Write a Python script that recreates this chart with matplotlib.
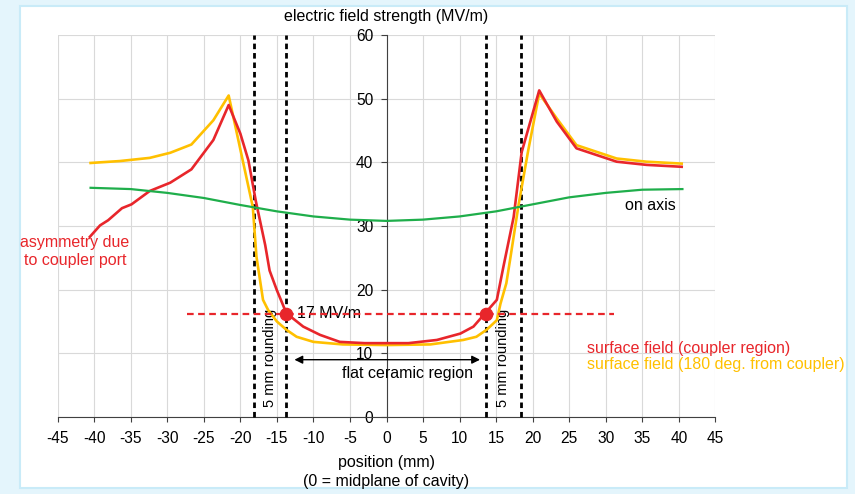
import numpy as np
import matplotlib.pyplot as plt
from matplotlib.patches import Rectangle

# position (mm) and field (MV/m)
onaxis_x = [-40.5, -35, -30, -25, -20, -15, -10, -5, 0, 5, 10, 15, 20, 25, 30, 35, 40.5]
onaxis_y = [36.0, 35.8, 35.2, 34.4, 33.3, 32.3, 31.5, 31.0, 30.8, 31.0, 31.5, 32.3, 33.4, 34.5, 35.2, 35.7, 35.8]

coupler_x = [-40.6, -39.2, -38.1, -36.2, -34.9, -32.4, -29.6, -26.7, -23.7, -21.6, -20.0, -18.9,
             -17.9, -16.6, -16.0, -15.0, -13.7, -11.4, -9.1, -6.4, -3.0, 0, 3.0, 6.9, 10.1, 11.9,
             13.5, 15.1, 16.0, 17.4, 18.5, 20.9, 23.3, 26.0, 31.5, 35.6, 40.4]
coupler_y = [28.3, 30.1, 30.9, 32.8, 33.4, 35.5, 36.8, 38.9, 43.5, 49.0, 44.5, 40.3,
             34.0, 27.0, 23.0, 19.9, 16.3, 14.2, 12.9, 11.8, 11.6, 11.6, 11.6, 12.1, 13.1, 14.2,
             16.3, 18.4, 23.6, 31.4, 41.6, 51.3, 46.4, 42.2, 40.1, 39.6, 39.3]

opp_x = [-40.5, -36.5, -32.4, -29.6, -26.7, -23.7, -21.6, -18.3, -17.8, -16.9, -16.2, -15.0,
         -13.7, -12.3, -10.0, -6.0, 0, 6.0, 10.5, 12.3, 13.7, 15.1, 15.6, 16.4, 16.9, 18.1,
         19.4, 20.9, 23.3, 26.0, 31.5, 35.6, 40.4]
opp_y = [39.9, 40.2, 40.7, 41.5, 42.8, 46.6, 50.5, 33.0, 25.2, 18.4, 16.8, 15.0,
         13.7, 12.6, 11.8, 11.4, 11.3, 11.4, 12.1, 12.6, 13.7, 15.2, 17.8, 21.0, 24.6, 33.5,
         41.9, 50.8, 46.9, 42.7, 40.6, 40.1, 39.8]

rounding_x = [-18.2, -13.7, 13.6, 18.4]
level_17 = 16.2
level_x = [-27.3, 31.1]
dots_x = [-13.7, 13.6]

RED = '#e8262b'
YEL = '#ffc000'
GRN = '#1fae4b'

plt.rcParams['font.family'] = ['Liberation Sans', 'DejaVu Sans']
plt.rcParams['axes.unicode_minus'] = False

fig = plt.figure(figsize=(8.55, 4.94), dpi=100)
fig.patch.set_facecolor('#e4f5fc')
fig.patches.append(Rectangle((20 / 855, 6 / 494), 827 / 855, 482 / 494, transform=fig.transFigure,
                             facecolor='white', edgecolor='#c9ebf8', linewidth=1.5, zorder=-5))

ax = fig.add_axes([57.7 / 855, 77 / 494, 657.6 / 855, 382 / 494])
ax.set_facecolor('none')
ax.set_xlim(-45, 45)
ax.set_ylim(0, 60)
ax.set_xticks(np.arange(-45, 46, 5))
ax.set_yticks(np.arange(0, 61, 10))
ax.grid(True, color='#d9d9d9', linewidth=0.8)
ax.set_axisbelow(True)
for s in ['top', 'right']:
    ax.spines[s].set_visible(False)
ax.spines['left'].set_position(('data', 0))
ax.spines['left'].set_color('#404040')
ax.spines['bottom'].set_color('#404040')
ax.tick_params(axis='both', labelsize=11.2, colors='#404040', labelcolor='black')
ax.tick_params(axis='y', length=4, pad=5.5)
ax.tick_params(axis='x', length=3.5, pad=6.5)

# rounding limits
for xv in rounding_x:
    ax.plot([xv, xv], [0, 60], color='black', linestyle=(0, (2, 1.4)), linewidth=2, zorder=3,
            clip_on=False)

ax.plot(opp_x, opp_y, color=YEL, linewidth=1.9, zorder=4)
ax.plot(coupler_x, coupler_y, color=RED, linewidth=1.9, zorder=5)
ax.plot(onaxis_x, onaxis_y, color=GRN, linewidth=1.6, zorder=5)

ax.plot(level_x, [level_17, level_17], color=RED, linestyle=(0, (3, 2)), linewidth=1.6, zorder=6)
ax.plot(dots_x, [level_17, level_17], 'o', color=RED, markersize=8.8, zorder=7)

ax.annotate('', xy=(-12.6, 9.0), xytext=(12.8, 9.0),
            arrowprops=dict(arrowstyle='<|-|>', color='black', linewidth=1,
                            mutation_scale=12, shrinkA=0, shrinkB=0))
ax.text(2.9, 6.9, 'flat ceramic region', ha='center', va='center', fontsize=11.5)
ax.text(-12.2, 16.3, '17 MV/m', ha='left', va='center', fontsize=11.5)
ax.text(-15.9, 9.3, '5 mm rounding', rotation=90, ha='center', va='center', fontsize=10.5)
ax.text(15.9, 9.3, '5 mm rounding', rotation=90, ha='center', va='center', fontsize=10.5)
ax.text(36.1, 33.2, 'on axis', ha='center', va='center', fontsize=11.5)

fig.text(386 / 855, 1 - 17 / 494, 'electric field strength (MV/m)', ha='center', va='center',
         fontsize=11.5)
fig.text(386 / 855, 1 - 462 / 494, 'position (mm)', ha='center', va='center', fontsize=11.5)
fig.text(386 / 855, 1 - 481 / 494, '(0 = midplane of cavity)', ha='center', va='center',
         fontsize=11.5)
fig.text(75 / 855, 1 - 251 / 494, 'asymmetry due\nto coupler port', ha='center', va='center',
         fontsize=11.5, color=RED, linespacing=1.25)
fig.text(587 / 855, 1 - 349 / 494, 'surface field (coupler region)', ha='left', va='center',
         fontsize=11.5, color=RED)
fig.text(587 / 855, 1 - 364.5 / 494, 'surface field (180 deg. from coupler)', ha='left',
         va='center', fontsize=11.5, color=YEL)

fig.savefig('out.png', dpi=100, facecolor=fig.get_facecolor())
